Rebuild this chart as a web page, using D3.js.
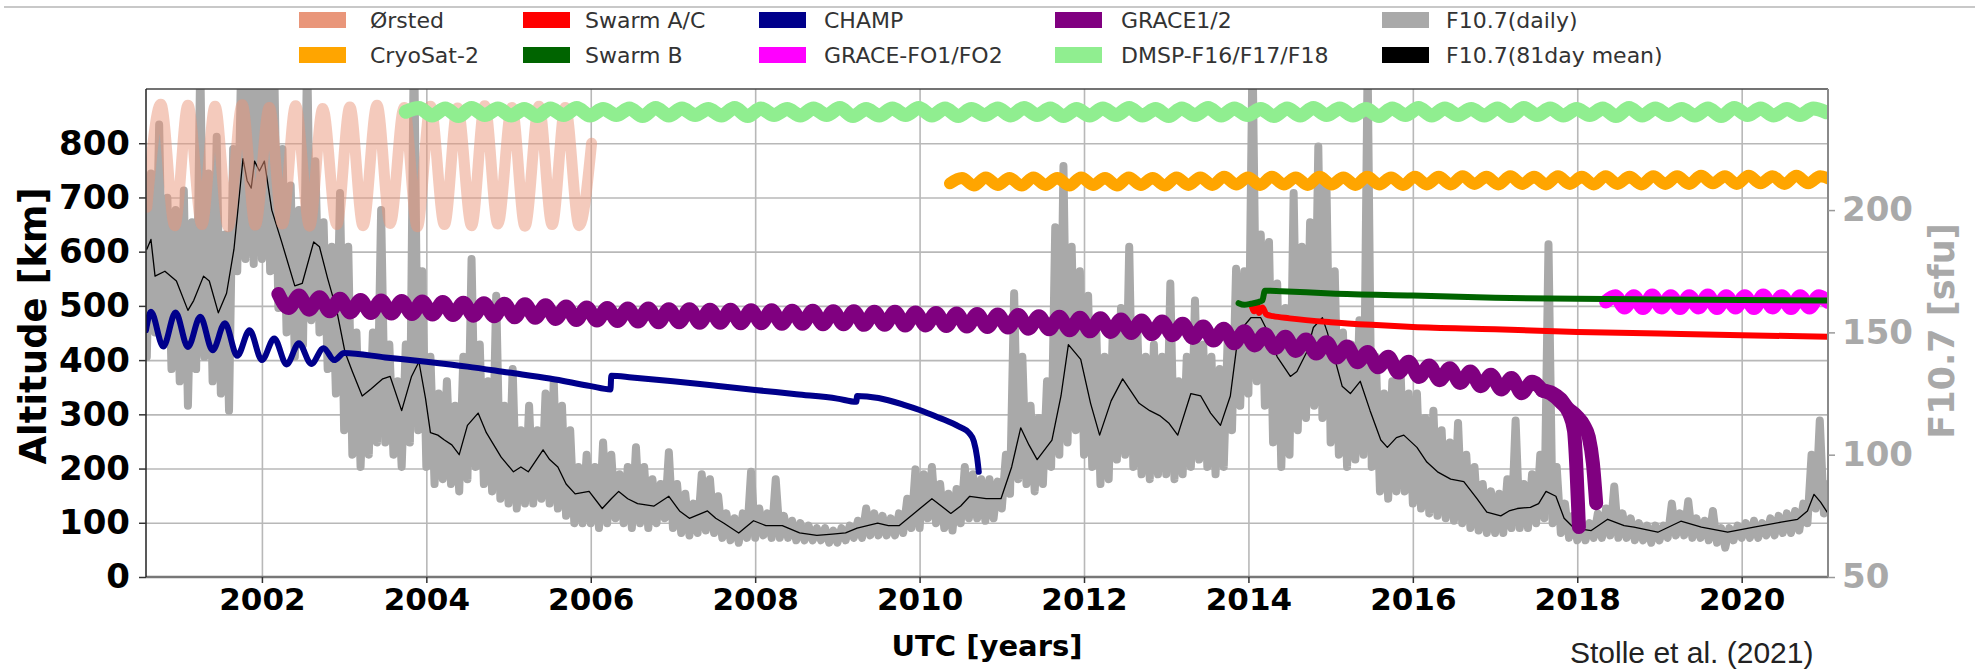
<!DOCTYPE html>
<html>
<head>
<meta charset="utf-8">
<title>Satellite altitudes and F10.7</title>
<script src="https://cdn.jsdelivr.net/npm/d3@7"></script>
<style>
  body { margin: 0; background: #fff; }
  svg text { font-family: "DejaVu Sans", sans-serif; }
  .grid line { stroke: #b8b8b8; stroke-width: 1.6; }
  .grid path { display: none; }
  .tick-left text, .tick-bottom text { font-weight: bold; fill: #000; }
  .tick-right text { font-weight: bold; fill: #a9a9a9; }
  .tick-left line, .tick-bottom line { stroke: #333; stroke-width: 1.5; }
  .tick-right line { stroke: #999; stroke-width: 1.5; }
  .tick-left path, .tick-bottom path, .tick-right path { display: none; }
</style>
</head>
<body>
<script>
// ---- data ----
var legendNames = ["Ørsted", "Swarm A/C", "CHAMP", "GRACE1/2", "F10.7(daily)",
                   "CryoSat-2", "Swarm B", "GRACE-FO1/FO2", "DMSP-F16/F17/F18", "F10.7(81day mean)"];
var yearTicks = [2002, 2004, 2006, 2008, 2010, 2012, 2014, 2016, 2018, 2020];
var altTicks = [0, 100, 200, 300, 400, 500, 600, 700, 800];
var fluxTicks = [50, 100, 150, 200];

// F10.7 daily [sfu], sampled every 0.05 yr from 2000.60
var f107DailyStart = 2000.60, f107DailyStep = 0.05;
var f107Daily = [
  140, 215, 150, 235, 145, 205, 135, 200,
  130, 208, 120, 195, 135, 262, 140, 215, 130, 230, 125, 190, 118, 225, 175, 265, 180, 270, 178, 275,
  180, 270, 175, 258, 160, 225, 150, 210, 140, 200, 145, 265, 155, 220, 150, 195, 135, 185, 125, 207,
  110, 185, 100, 150, 95, 140, 100, 150, 105, 200, 105, 145, 100, 130, 95, 145, 105, 275, 110, 175,
  95, 140, 88, 125, 90, 130, 88, 120, 85, 140, 90, 180, 95, 145, 88, 130, 85, 165, 82, 120,
  80, 135, 78, 110, 80, 120, 80, 110, 82, 125, 80, 130, 78, 120, 75, 110, 72, 95, 72, 100,
  72, 95, 70, 105, 72, 100, 74, 92, 72, 95, 70, 103, 72, 95, 70, 90, 72, 88, 74, 101,
  70, 88, 68, 84, 67, 80, 68, 92, 69, 90, 68, 83, 66, 76, 65, 74, 64, 76, 66, 93,
  66, 78, 67, 76, 66, 90, 66, 75, 66, 73, 65, 72, 65, 71, 65, 70, 65, 70, 64, 69,
  64, 70, 65, 71, 66, 73, 66, 78, 67, 76, 67, 75, 67, 74, 67, 76, 68, 82, 70, 94,
  70, 92, 74, 95, 72, 88, 70, 84, 69, 86, 72, 95, 74, 92, 74, 90, 73, 90, 74, 89,
  78, 100, 84, 166, 90, 140, 88, 120, 85, 115, 88, 130, 95, 193, 100, 218, 105, 185, 110, 175,
  100, 165, 95, 150, 88, 140, 90, 150, 98, 160, 100, 185, 95, 150, 92, 140, 90, 145, 92, 140,
  92, 170, 90, 130, 92, 140, 95, 163, 98, 145, 95, 140, 92, 135, 95, 150, 110, 176, 120, 175,
  125, 265, 130, 190, 120, 187, 105, 170, 95, 160, 100, 207, 110, 185, 115, 195, 120, 226, 115, 209,
  105, 175, 100, 150, 95, 145, 98, 155, 100, 260, 95, 140, 85, 125, 82, 130, 85, 135, 85, 125,
  80, 125, 78, 115, 76, 118, 75, 110, 74, 105, 73, 113, 72, 100, 70, 95, 69, 88, 68, 85,
  68, 84, 68, 90, 70, 114, 70, 88, 70, 92, 72, 100, 74, 186, 72, 95, 68, 80, 66, 75,
  65, 73, 65, 72, 66, 76, 66, 78, 67, 87, 66, 76, 66, 74, 65, 72, 65, 71, 64, 71,
  65, 71, 66, 80, 67, 76, 67, 81, 66, 74, 66, 73, 65, 77, 64, 70, 62, 70, 65, 71,
  66, 72, 66, 73, 66, 72, 67, 74, 67, 75, 68, 76, 68, 77, 69, 80, 72, 100, 78, 114,
  76, 88
];

// F10.7 81-day mean [year, sfu]
var f107Mean = [
  [2000.60, 184], [2000.65, 188], [2000.70, 173], [2000.82, 175], [2000.96, 171], [2001.10, 159],
  [2001.17, 163], [2001.29, 173], [2001.36, 171], [2001.47, 158], [2001.57, 166], [2001.66, 184],
  [2001.77, 221], [2001.82, 212], [2001.87, 209], [2001.91, 220], [2001.97, 216], [2002.03, 220],
  [2002.12, 200], [2002.24, 187], [2002.40, 169], [2002.49, 170], [2002.63, 187], [2002.70, 185],
  [2002.80, 172], [2002.91, 159], [2003.01, 142], [2003.10, 134], [2003.22, 124], [2003.33, 127],
  [2003.47, 131], [2003.56, 132], [2003.70, 118], [2003.82, 132], [2003.91, 138], [2003.99, 123],
  [2004.05, 109], [2004.14, 108], [2004.22, 106], [2004.31, 104], [2004.40, 100], [2004.50, 112],
  [2004.63, 117], [2004.73, 109], [2004.82, 104], [2004.91, 99], [2005.06, 93], [2005.15, 95],
  [2005.24, 93], [2005.42, 102], [2005.50, 98], [2005.60, 95], [2005.70, 88], [2005.81, 84],
  [2005.98, 85], [2006.14, 78], [2006.25, 82], [2006.34, 85], [2006.45, 82], [2006.57, 80],
  [2006.77, 79], [2006.95, 83], [2007.08, 77], [2007.20, 74], [2007.42, 77], [2007.52, 74],
  [2007.62, 72], [2007.80, 68], [2007.98, 73], [2008.13, 71], [2008.33, 71], [2008.54, 68],
  [2008.75, 67], [2008.94, 67.5], [2009.10, 68], [2009.24, 70], [2009.49, 72], [2009.62, 71],
  [2009.75, 71], [2009.95, 76.5], [2010.15, 82], [2010.38, 76], [2010.50, 79], [2010.61, 83],
  [2010.81, 82], [2010.99, 82], [2011.12, 95], [2011.23, 111], [2011.33, 104], [2011.43, 98],
  [2011.61, 106], [2011.72, 124], [2011.81, 145], [2011.96, 139], [2012.08, 121], [2012.19, 108],
  [2012.33, 122], [2012.47, 131], [2012.57, 126], [2012.67, 121], [2012.80, 118], [2012.92, 116],
  [2013.03, 113], [2013.14, 108], [2013.30, 125], [2013.42, 124], [2013.54, 117], [2013.66, 112],
  [2013.78, 124], [2013.88, 150], [2014.03, 156], [2014.15, 156], [2014.21, 152], [2014.35, 140],
  [2014.51, 132], [2014.59, 134], [2014.71, 142], [2014.79, 152], [2014.90, 156], [2014.96, 150],
  [2015.06, 138], [2015.14, 128], [2015.24, 125], [2015.36, 130], [2015.48, 118], [2015.61, 106],
  [2015.69, 103], [2015.80, 107], [2015.89, 108], [2016.05, 103], [2016.17, 97], [2016.30, 93],
  [2016.46, 90], [2016.62, 89], [2016.78, 82], [2016.90, 76.5], [2017.07, 75], [2017.17, 77],
  [2017.27, 78], [2017.43, 78.5], [2017.53, 80], [2017.62, 85], [2017.74, 83], [2017.84, 74],
  [2017.96, 70], [2018.17, 69], [2018.37, 73.6], [2018.57, 71], [2018.69, 70.4], [2018.98, 68.3],
  [2019.26, 72.8], [2019.51, 70.4], [2019.83, 68.3], [2020.15, 70.4], [2020.48, 72.4], [2020.68, 73.6],
  [2020.80, 77], [2020.88, 83.8], [2020.96, 80.6], [2021.04, 76.5]
];

// Ørsted altitude [year, km]
var orsted = [
  [2000.60, 682], [2000.77, 872], [2000.94, 648], [2001.10, 870], [2001.27, 650], [2001.43, 868],
  [2001.59, 646], [2001.76, 871], [2001.92, 649], [2002.09, 866], [2002.25, 651], [2002.41, 869],
  [2002.58, 647], [2002.74, 864], [2002.91, 650], [2003.07, 867], [2003.23, 648], [2003.40, 870],
  [2003.56, 652], [2003.73, 866], [2003.89, 646], [2004.05, 868], [2004.22, 650], [2004.38, 865],
  [2004.55, 648], [2004.71, 869], [2004.87, 651], [2005.04, 866], [2005.20, 647], [2005.37, 868],
  [2005.53, 650], [2005.69, 866], [2005.86, 648], [2006.01, 800]
];

// DMSP altitude [km], every 0.16 yr from 2003.75
var dmspStart = 2003.75, dmspStep = 0.16;
var dmsp = [
  858, 865, 851, 864, 850, 865, 852, 864, 851, 863,
  850, 864, 852, 865, 851, 863, 852, 864, 850, 865,
  851, 864, 852, 863, 851, 865, 850, 864, 852, 863,
  851, 864, 852, 865, 850, 863, 851, 864, 852, 865,
  851, 864, 850, 863, 852, 864, 851, 865, 852, 864,
  850, 863, 851, 864, 852, 865, 851, 863, 850, 864,
  852, 865, 851, 864, 852, 863, 850, 864, 851, 865,
  852, 864, 851, 863, 850, 864, 852, 865, 851, 864,
  852, 863, 851, 864, 850, 865, 852, 864, 851, 863,
  852, 864, 850, 865, 851, 864, 852, 863, 851, 864,
  850, 865, 852, 864, 851, 863, 852, 864, 857
];

// CryoSat-2 altitude [km], every 0.145 yr from 2010.37
var cryoStart = 2010.37, cryoStep = 0.145;
var cryosat = [
  726, 736, 722, 737, 723, 736, 722, 737, 723, 736,
  722, 737, 723, 736, 722, 737, 723, 736, 722, 737,
  723, 737, 723, 738, 724, 737, 723, 738, 724, 737,
  723, 738, 724, 737, 723, 738, 724, 737, 723, 738,
  724, 738, 724, 739, 725, 738, 724, 739, 725, 738,
  724, 739, 725, 738, 724, 739, 725, 738, 724, 739,
  725, 739, 725, 740, 726, 739, 725, 740, 726, 739,
  725, 740, 726, 739, 732
];

// CHAMP altitude [year, km]
var champ = [
  [2000.59, 455], [2000.65, 489], [2000.80, 425], [2000.95, 488], [2001.10, 424], [2001.25, 480],
  [2001.40, 418], [2001.55, 468], [2001.70, 408], [2001.85, 455], [2002.00, 400], [2002.15, 440],
  [2002.30, 392], [2002.45, 431], [2002.60, 393], [2002.75, 422], [2002.88, 400], [2003.00, 413],
  [2003.50, 405], [2004.00, 397], [2004.50, 388], [2005.00, 377], [2005.50, 366], [2006.00, 352],
  [2006.24, 346], [2006.25, 371], [2006.50, 368], [2007.00, 361], [2007.50, 353], [2008.00, 345],
  [2008.50, 337], [2009.00, 329], [2009.23, 323], [2009.24, 334], [2009.50, 330], [2009.80, 318],
  [2010.00, 308], [2010.20, 296], [2010.35, 287], [2010.50, 276], [2010.60, 266], [2010.66, 250],
  [2010.70, 220], [2010.72, 194]
];

// GRACE1/2 common altitude [km], every 0.125 yr from 2002.20
var graceStart = 2002.20, graceStep = 0.125;
var grace = [
  522, 496, 519, 493, 516, 490, 513, 488, 511, 487, 510, 486, 509, 485, 508, 484, 507, 483, 506, 482,
  505, 481, 504, 479, 503, 478, 501, 476, 499, 474, 497, 473, 496, 472, 495, 471, 495, 470, 494, 470,
  494, 469, 493, 469, 493, 468, 492, 468, 492, 467, 491, 467, 491, 466, 490, 466, 490, 465, 489, 465,
  489, 464, 488, 464, 487, 463, 486, 462, 485, 461, 484, 460, 483, 458, 481, 457, 480, 455, 478, 453,
  477, 452, 475, 450, 473, 448, 471, 446, 467, 441, 462, 436, 458, 431, 453, 427, 448, 422, 443, 417,
  438, 412, 433, 405, 425, 396, 415, 387, 406, 377, 397, 369, 390, 363, 385, 358, 379, 352, 373, 346,
  367, 339, 360, 344
];
// separate re-entry of the two GRACE satellites [year, km]
var grace1Tail = [
  [2017.575, 344], [2017.68, 338], [2017.80, 322], [2017.90, 302], [2017.96, 270], [2017.99, 200],
  [2018.01, 130], [2018.02, 92]
];
var grace2Tail = [
  [2017.575, 344], [2017.70, 339], [2017.80, 328], [2017.88, 312], [2018.00, 296], [2018.08, 280],
  [2018.14, 258], [2018.19, 210], [2018.23, 136]
];

// GRACE-FO altitude [km], every 0.1125 yr from 2018.35
var gfoStart = 2018.35, gfoStep = 0.1125;
var graceFO = [
  508, 518, 497, 518, 496, 519, 497, 518, 496, 518, 497, 519, 496, 518, 497, 518, 496, 519, 497, 518,
  496, 518, 497, 518, 507
];

// Swarm altitudes [year, km]
var swarmB = [
  [2013.88, 505], [2013.95, 502], [2014.03, 504], [2014.12, 507], [2014.17, 510], [2014.20, 528],
  [2014.40, 527], [2015.00, 523], [2016.00, 519], [2017.00, 515], [2018.00, 513], [2019.00, 512],
  [2020.00, 511], [2021.05, 510]
];
var swarmAC = [
  [2014.04, 500], [2014.07, 490], [2014.10, 503], [2014.13, 487], [2014.17, 497], [2014.22, 484],
  [2014.30, 481], [2014.50, 477], [2015.00, 470], [2015.50, 465], [2016.00, 461], [2017.00, 457],
  [2018.00, 452], [2019.00, 449], [2020.00, 446], [2021.05, 443]
];

// ---- layout ----
var width = 1975, height = 672;
var plot = {left: 146, right: 1828, top: 89, bottom: 577};

var svg = d3.select("body").append("svg")
  .attr("width", width).attr("height", height);

var x = d3.scaleLinear().domain([2000.59, 2021.05]).range([plot.left, plot.right]);
var yAlt = d3.scaleLinear().domain([0, 900]).range([plot.bottom, plot.top]);
var yFlux = d3.scaleLinear().domain([50, 249.5]).range([plot.bottom, plot.top]);

function regular(start, step, vals) {
  return vals.map(function(v, i) { return [start + i * step, v]; });
}

// thin rule across the very top
svg.append("line")
  .attr("x1", 4).attr("x2", width).attr("y1", 7).attr("y2", 7)
  .attr("stroke", "#c8c8c8").attr("stroke-width", 2);

// grid
svg.append("g").attr("class", "grid")
  .attr("transform", "translate(0," + plot.bottom + ")")
  .call(d3.axisBottom(x).tickValues(yearTicks).tickSize(-(plot.bottom - plot.top)).tickFormat(""));
svg.append("g").attr("class", "grid")
  .attr("transform", "translate(" + plot.left + ",0)")
  .call(d3.axisLeft(yAlt).tickValues(altTicks.slice(1)).tickSize(-(plot.right - plot.left)).tickFormat(""));

svg.append("clipPath").attr("id", "clip")
  .append("rect")
  .attr("x", plot.left).attr("y", plot.top)
  .attr("width", plot.right - plot.left).attr("height", plot.bottom - plot.top);

var g = svg.append("g").attr("clip-path", "url(#clip)");

var fluxLine = d3.line().x(function(d) { return x(d[0]); }).y(function(d) { return yFlux(d[1]); });
var altLine = d3.line().x(function(d) { return x(d[0]); }).y(function(d) { return yAlt(d[1]); })
  .curve(d3.curveMonotoneX);

function draw(data, lineGen, color, w, opacity) {
  g.append("path")
    .datum(data)
    .attr("d", lineGen)
    .attr("fill", "none")
    .attr("stroke", color)
    .attr("stroke-width", w)
    .attr("stroke-opacity", opacity || 1)
    .attr("stroke-linejoin", "round")
    .attr("stroke-linecap", "round");
}

draw(regular(f107DailyStart, f107DailyStep, f107Daily), fluxLine, "#a9a9a9", 8);
draw(f107Mean, fluxLine, "#000", 1.3);
draw(orsted, altLine, "#e9967a", 11, 0.5);
draw(regular(dmspStart, dmspStep, dmsp), altLine, "#90ee90", 14);
draw(regular(cryoStart, cryoStep, cryosat), altLine, "#ffa500", 12);
draw(champ, altLine, "#00008b", 6);
draw(regular(graceStart, graceStep, grace), altLine, "#800080", 14);
draw(grace1Tail, altLine, "#800080", 14);
draw(grace2Tail, altLine, "#800080", 14);
draw(regular(gfoStart, gfoStep, graceFO), altLine, "#ff00ff", 14);
draw(swarmAC, altLine, "#ff0000", 6);
draw(swarmB, altLine, "#006400", 6);

// spines
svg.append("line").attr("x1", plot.left).attr("x2", plot.right).attr("y1", plot.top).attr("y2", plot.top)
  .attr("stroke", "#444").attr("stroke-width", 1.5);
svg.append("line").attr("x1", plot.left).attr("x2", plot.right).attr("y1", plot.bottom).attr("y2", plot.bottom)
  .attr("stroke", "#777").attr("stroke-width", 2.5);
svg.append("line").attr("x1", plot.left).attr("x2", plot.left).attr("y1", plot.top).attr("y2", plot.bottom)
  .attr("stroke", "#222").attr("stroke-width", 1.5);
svg.append("line").attr("x1", plot.right).attr("x2", plot.right).attr("y1", plot.top).attr("y2", plot.bottom)
  .attr("stroke", "#8a8a8a").attr("stroke-width", 2);

// axes
svg.append("g").attr("class", "tick-left")
  .attr("transform", "translate(" + plot.left + ",0)")
  .call(d3.axisLeft(yAlt).tickValues(altTicks).tickSize(7).tickPadding(9))
  .selectAll("text").style("font-size", "34px");
svg.append("g").attr("class", "tick-right")
  .attr("transform", "translate(" + plot.right + ",0)")
  .call(d3.axisRight(yFlux).tickValues(fluxTicks).tickSize(7).tickPadding(7))
  .selectAll("text").style("font-size", "34px");
svg.append("g").attr("class", "tick-bottom")
  .attr("transform", "translate(0," + plot.bottom + ")")
  .call(d3.axisBottom(x).tickValues(yearTicks).tickFormat(d3.format("d")).tickSize(6).tickPadding(5))
  .selectAll("text").style("font-size", "31px");

// axis titles
svg.append("text")
  .attr("transform", "translate(33,326) rotate(-90)")
  .attr("text-anchor", "middle").attr("dominant-baseline", "central")
  .style("font-size", "37px").style("font-weight", "bold")
  .text("Altitude [km]");
svg.append("text")
  .attr("transform", "translate(1942,331) rotate(-90)")
  .attr("text-anchor", "middle").attr("dominant-baseline", "central")
  .style("font-size", "35px").style("font-weight", "bold").attr("fill", "#a9a9a9")
  .text("F10.7 [sfu]");
svg.append("text")
  .attr("x", (plot.left + plot.right) / 2).attr("y", 656)
  .attr("text-anchor", "middle")
  .style("font-size", "29px").style("font-weight", "bold")
  .text("UTC [years]");
svg.append("text")
  .attr("x", 1570).attr("y", 663)
  .style("font-family", "'Liberation Sans', Arial, sans-serif").style("font-size", "30px")
  .attr("fill", "#222")
  .text("Stolle et al. (2021)");

// legend: 5 columns x 2 rows
var legendColors = ["#e9967a", "#ff0000", "#00008b", "#800080", "#a9a9a9",
                    "#ffa500", "#006400", "#ff00ff", "#90ee90", "#000000"];
var colPatch = [299, 523, 759, 1055, 1382];
var colText = [370, 585, 824, 1121, 1446];
var rowY = [20, 55];
var leg = svg.append("g").selectAll("g")
  .data(legendNames)
  .enter().append("g");
leg.append("rect")
  .attr("x", function(d, i) { return colPatch[i % 5]; })
  .attr("y", function(d, i) { return rowY[Math.floor(i / 5)] - 8; })
  .attr("width", 47).attr("height", 16)
  .attr("fill", function(d, i) { return legendColors[i]; });
leg.append("text")
  .attr("x", function(d, i) { return colText[i % 5]; })
  .attr("y", function(d, i) { return rowY[Math.floor(i / 5)]; })
  .attr("dominant-baseline", "central")
  .style("font-size", "22px").attr("fill", "#333")
  .text(function(d) { return d; });
</script>
</body>
</html>
